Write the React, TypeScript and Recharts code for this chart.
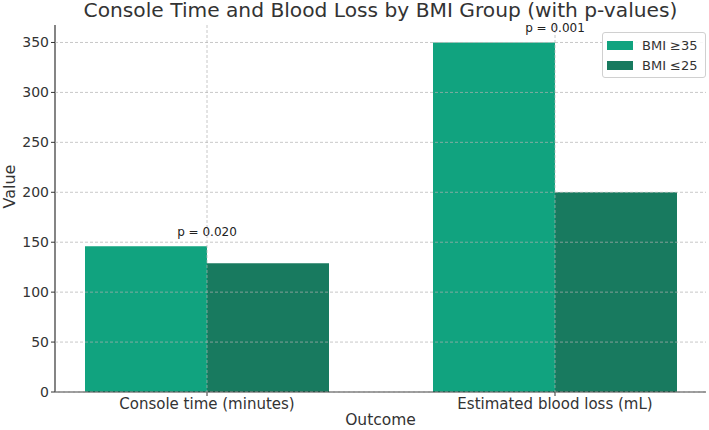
import {
  BarChart,
  Bar,
  XAxis,
  YAxis,
  CartesianGrid,
  LabelList,
  Label,
} from "recharts";

const categories = ["Console time (minutes)", "Estimated blood loss (mL)"];
const bmiHigh = [146, 350];
const bmiLow = [129, 200];
const pValues = ["p = 0.020", "p = 0.001"];
const yTicks = [0, 50, 100, 150, 200, 250, 300, 350];

const FONT = "'DejaVu Sans', 'Noto Sans', sans-serif";
const TEXT = "#333333";

const series = [
  { key: "high", name: "BMI ≥35", color: "#11a37f" },
  { key: "low", name: "BMI ≤25", color: "#187a5f" },
];

const data = categories.map((outcome, i) => ({
  outcome,
  high: bmiHigh[i],
  low: bmiLow[i],
  p: pValues[i],
}));

// p-value sits centred over the pair, just above the taller bar
function PLabel(props: any) {
  const { x, y, width, index } = props;
  return (
    <text
      x={x + width}
      y={y - 14}
      textAnchor="middle"
      dominantBaseline="central"
      fontSize={12}
      fontFamily={FONT}
      fill="#222"
    >
      {pValues[index]}
    </text>
  );
}

function LegendBox() {
  return (
    <div
      style={{
        position: "absolute",
        left: 602,
        top: 32,
        width: 104,
        boxSizing: "border-box",
        border: "1px solid #d0d0d0",
        borderRadius: 3,
        background: "rgba(255,255,255,0.85)",
        padding: "2px 4px",
        fontFamily: FONT,
        fontSize: 13,
        color: TEXT,
      }}
    >
      {series.map((s) => (
        <div
          key={s.key}
          style={{ display: "flex", alignItems: "center", height: 20 }}
        >
          <span
            style={{
              width: 26,
              height: 9,
              background: s.color,
              marginRight: 9,
              display: "inline-block",
            }}
          />
          {s.name}
        </div>
      ))}
    </div>
  );
}

export default function App() {
  return (
    <div
      style={{
        position: "absolute",
        left: 0,
        top: 0,
        width: 709,
        height: 430,
        background: "#fff",
      }}
    >
      <div
        style={{
          position: "absolute",
          left: 55,
          width: 651,
          top: 0,
          textAlign: "center",
          fontFamily: FONT,
          fontSize: 20.2,
          color: TEXT,
          lineHeight: "20px",
        }}
      >
        Console Time and Blood Loss by BMI Group (with p-values)
      </div>
      <BarChart
        width={709}
        height={430}
        data={data}
        margin={{ top: 25, right: 3, bottom: 0, left: 0 }}
        barGap={0}
        barSize={122}
      >
        <XAxis
          dataKey="outcome"
          padding={{ left: -22, right: -23 }}
          height={38}
          tickSize={4}
          axisLine={{ stroke: "#333", strokeWidth: 1.2 }}
          tickLine={{ stroke: "#333" }}
          tick={{ fill: TEXT, fontSize: 15, fontFamily: FONT }}
        >
          <Label
            value="Outcome"
            position="insideBottom"
            offset={5}
            fill={TEXT}
            fontSize={15.5}
            fontFamily={FONT}
          />
        </XAxis>
        <YAxis
          width={55}
          domain={[0, 367.5]}
          ticks={yTicks}
          interval={0}
          tickSize={4}
          axisLine={{ stroke: "#333", strokeWidth: 1.2 }}
          tickLine={{ stroke: "#333" }}
          tick={{ fill: TEXT, fontSize: 14, fontFamily: FONT }}
        >
          <Label
            value="Value"
            angle={-90}
            position="insideLeft"
            offset={9}
            fill={TEXT}
            fontSize={16}
            fontFamily={FONT}
          />
        </YAxis>
        {series.map((s) => (
          <Bar
            key={s.key}
            dataKey={s.key}
            name={s.name}
            fill={s.color}
            isAnimationActive={false}
          >
            {s.key === "high" && (
              <LabelList dataKey="p" content={<PLabel />} />
            )}
          </Bar>
        ))}
        <CartesianGrid
          stroke="#b0b0b0"
          strokeOpacity={0.7}
          strokeDasharray="3 2"
          zIndex={1000}
          horizontalValues={yTicks}
          verticalValues={categories}
        />
      </BarChart>
      <LegendBox />
    </div>
  );
}
